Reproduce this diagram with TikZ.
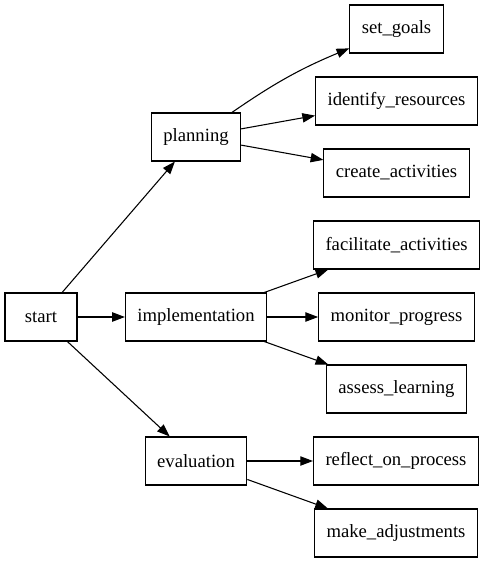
\documentclass[tikz,border=0pt]{standalone}
\usepackage{fontspec}
\setmainfont{Liberation Serif}
\usepackage{tikz}
\usetikzlibrary{arrows.meta}

\begin{document}
\begin{tikzpicture}[
    x=0.75pt,y=-0.75pt,
    font=\fontsize{14}{16}\selectfont,
    block/.style={draw,line width=0.8pt,align=center,minimum width=54pt,minimum height=36pt,inner xsep=9pt,inner ysep=3pt},
    arrow/.style={-{Triangle[length=9.5pt,width=7pt]},line width=0.8pt}
]
\useasboundingbox (0,0) rectangle (484,563);
\node[block] (start) at (41,317) {start};
\node[block] (planning) at (196,137) {planning};
\node[block] (impl) at (196,317) {implementation};
\node[block] (eval) at (196,461) {evaluation};
\node[block] (goals) at (396.5,29) {set\_goals};
\node[block] (resources) at (396.5,101) {identify\_resources};
\node[block] (activities) at (396.5,173) {create\_activities};
\node[block] (facilitate) at (396.5,245) {facilitate\_activities};
\node[block] (monitor) at (396.5,317) {monitor\_progress};
\node[block] (assess) at (396.5,389) {assess\_learning};
\node[block] (reflect) at (396,461) {reflect\_on\_process};
\node[block] (adjust) at (396,533) {make\_adjustments};
\draw[arrow] (start) -- (planning);
\draw[arrow] (start) -- (impl);
\draw[arrow] (start) -- (eval);
\draw[arrow] (planning) to[bend left=6] (goals);
\draw[arrow] (planning) -- (resources);
\draw[arrow] (planning) -- (activities);
\draw[arrow] (impl) -- (facilitate);
\draw[arrow] (impl) -- (monitor);
\draw[arrow] (impl) -- (assess);
\draw[arrow] (eval) -- (reflect);
\draw[arrow] (eval) -- (adjust);
\end{tikzpicture}
\end{document}
